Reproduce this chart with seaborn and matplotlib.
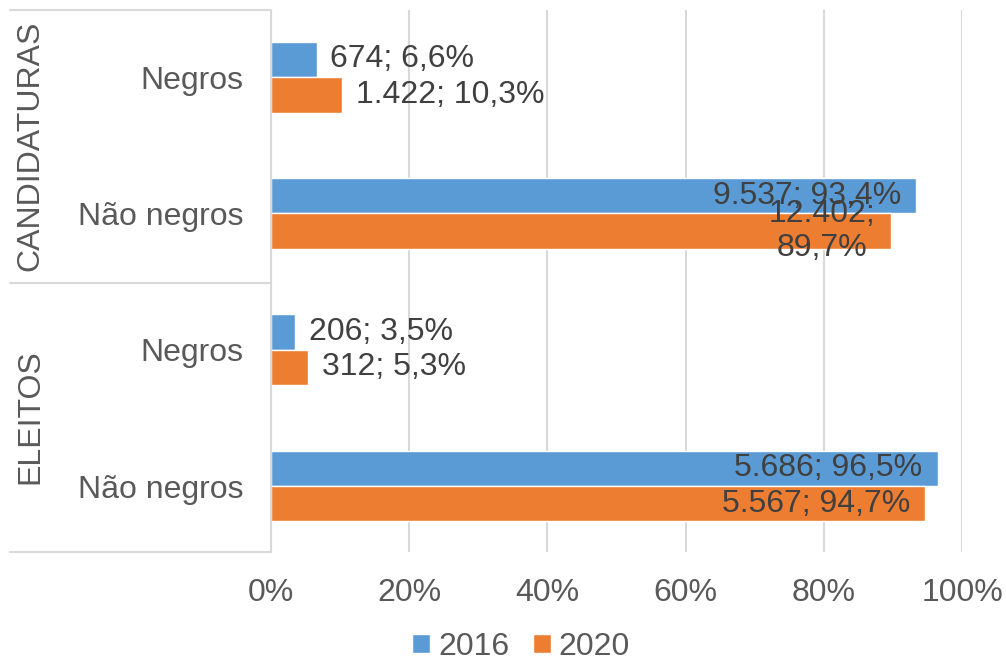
import pandas as pd
import seaborn as sns
import matplotlib.pyplot as plt
from matplotlib.lines import Line2D

# dados
grupos = ["CANDIDATURAS", "CANDIDATURAS", "ELEITOS", "ELEITOS"]
categorias = ["Negros", "Não negros", "Negros", "Não negros"]
anos = ["2016", "2020"]
n_2016 = [674, 9537, 206, 5686]
n_2020 = [1422, 12402, 312, 5567]
pct_2016 = [6.6, 93.4, 3.5, 96.5]
pct_2020 = [10.3, 89.7, 5.3, 94.7]
xticks = [0, 20, 40, 60, 80, 100]

azul = "#5B9BD5"
laranja = "#ED7D31"
cinza_txt = "#595959"
cinza_lbl = "#404040"
cinza_linha = "#D9D9D9"
FS = 23


def fmt_label(n, p):
    # separador de milhar "." e decimal ","
    s = f"{n:,}".replace(",", ".") + "; " + f"{p:.1f}".replace(".", ",") + "%"
    if len(s) > 12:
        s = s.replace("; ", ";\n")
    return s


chaves = [f"{g}|{c}" for g, c in zip(grupos, categorias)]
rows = []
for ano, ns, ps in [("2016", n_2016, pct_2016), ("2020", n_2020, pct_2020)]:
    for k, n, p in zip(chaves, ns, ps):
        rows.append({"chave": k, "ano": ano, "pct": p, "n": n})
df = pd.DataFrame(rows)

sns.set_style("white")
plt.rcParams["font.family"] = ["Liberation Sans", "DejaVu Sans"]
plt.rcParams["font.size"] = FS

fig = plt.figure(figsize=(10.06, 6.63), dpi=100)
ax = fig.add_axes([271 / 1006, 1 - 552 / 663, 691 / 1006, 542 / 663])

sns.barplot(data=df, x="pct", y="chave", hue="ano", order=chaves,
            hue_order=anos, palette=[azul, laranja], width=0.52,
            orient="h", ax=ax, saturation=1)

ax.set_xlim(0, 100)
ax.set_ylim(3.484, -0.492)
ax.set_xticks(xticks)
ax.set_xticklabels([f"{t}%" for t in xticks])
ax.set_yticks(range(len(categorias)))
ax.set_yticklabels(categorias)
ax.set_xlabel("")
ax.set_ylabel("")
ax.tick_params(axis="both", length=0, colors=cinza_txt, labelsize=FS)
ax.tick_params(axis="y", pad=20)
ax.tick_params(axis="x", pad=19)
ax.grid(axis="x", color=cinza_linha, linewidth=1.5)
ax.set_axisbelow(True)
for lado in ["top", "right", "bottom"]:
    ax.spines[lado].set_visible(False)
ax.spines["left"].set_color(cinza_linha)
ax.spines["left"].set_linewidth(1.5)

# rótulos de dados
for cont, ns, ps in zip(ax.containers, [n_2016, n_2020], [pct_2016, pct_2020]):
    for bar, n, p in zip(cont, ns, ps):
        w = bar.get_width()
        yc = bar.get_y() + bar.get_height() / 2
        txt = fmt_label(n, p)
        if w > 50:
            ax.annotate(txt, (w, yc), xytext=(-11, 0), textcoords="offset points",
                        ha="right", va="center", ma="center", color=cinza_lbl,
                        fontsize=FS, linespacing=1.2)
        else:
            ax.annotate(txt, (w, yc), xytext=(10, 0), textcoords="offset points",
                        ha="left", va="center", color=cinza_lbl, fontsize=FS)

# moldura dos grupos à esquerda
for yp in [10, 283, 552]:
    fig.add_artist(Line2D([10 / 1006, 271 / 1006], [1 - yp / 663, 1 - yp / 663],
                          color=cinza_linha, linewidth=1.5))
fig.text(30 / 1006, 1 - 146 / 663, "CANDIDATURAS", rotation=90, ha="center",
         va="center", color=cinza_txt, fontsize=FS)
fig.text(30 / 1006, 1 - 417 / 663, "ELEITOS", rotation=90, ha="center",
         va="center", color=cinza_txt, fontsize=FS)

# legenda
handles, labels = ax.get_legend_handles_labels()
ax.get_legend().remove()
fig.legend(handles, labels, loc="lower center", ncol=2, frameon=False,
           bbox_to_anchor=(0.518, -0.042), handlelength=0.55, handleheight=0.55,
           handletextpad=0.25, columnspacing=0.75, fontsize=FS,
           labelcolor=cinza_txt)

fig.savefig("out.png", dpi=100)
